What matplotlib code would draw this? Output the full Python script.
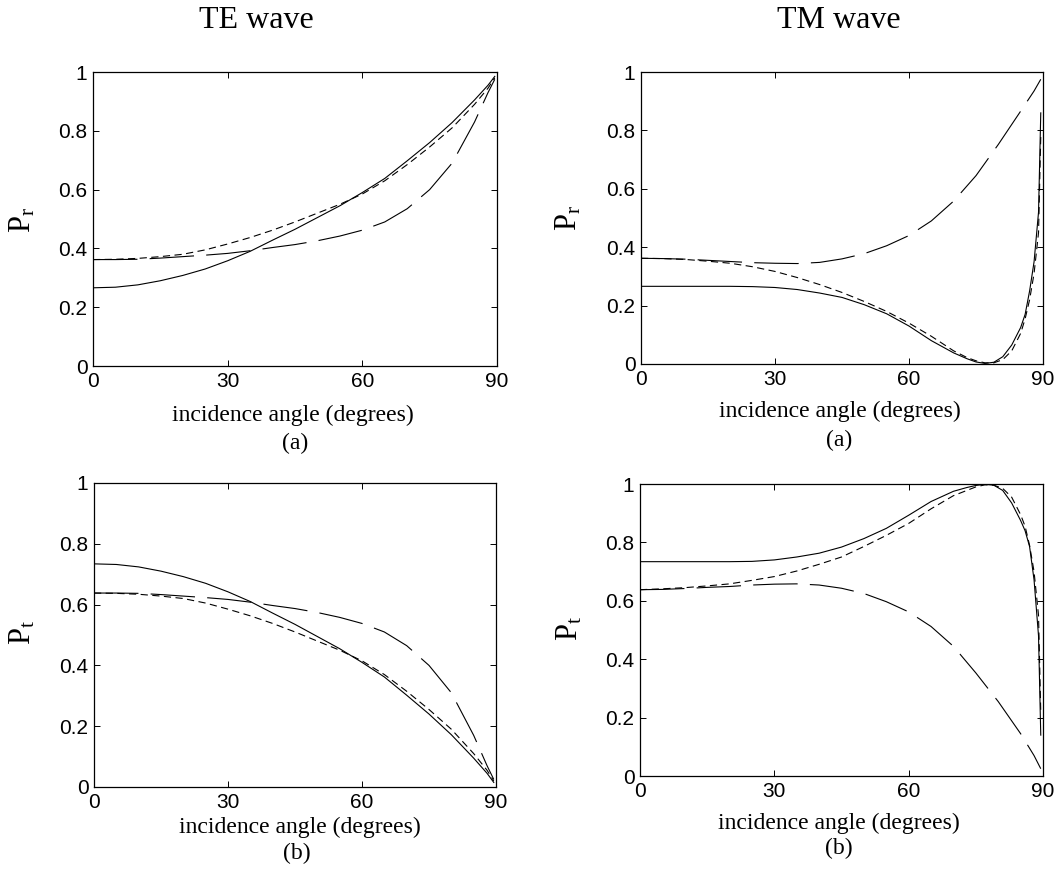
import matplotlib
matplotlib.use("Agg")
import matplotlib.pyplot as plt

ang_te = [0, 5, 10, 15, 20, 25, 30, 35, 40, 45, 50, 55, 60, 65, 70, 75, 80, 85, 88, 89.5]
ang_tm = [0, 5, 10, 15, 20, 25, 30, 35, 40, 45, 50, 55, 60, 65, 70, 73, 75, 77, 79, 81,
          83, 85, 86, 87, 88, 89, 89.5]
ang_tm_long = [0, 5, 10, 15, 20, 25, 30, 35, 40, 45, 50, 55, 60, 65, 70, 75, 80, 85, 88, 89.5]

# TE wave, reflected power
te_r_solid = [0.266, 0.268, 0.276, 0.29, 0.308, 0.33, 0.358, 0.39, 0.428, 0.465, 0.505, 0.545,
              0.59, 0.638, 0.698, 0.76, 0.828, 0.905, 0.955, 0.985]
te_r_short = [0.362, 0.363, 0.366, 0.372, 0.38, 0.395, 0.415, 0.437, 0.462, 0.49, 0.52, 0.55,
              0.585, 0.63, 0.685, 0.745, 0.81, 0.89, 0.945, 0.98]
te_r_long = [0.362, 0.362, 0.363, 0.367, 0.372, 0.377, 0.383, 0.392, 0.403, 0.413, 0.426, 0.442,
             0.462, 0.49, 0.535, 0.6, 0.69, 0.83, 0.93, 0.975]

# TE wave, transmitted power
te_t_solid = [0.734, 0.732, 0.724, 0.71, 0.692, 0.67, 0.642, 0.61, 0.572, 0.535, 0.495, 0.455,
              0.41, 0.362, 0.302, 0.24, 0.172, 0.095, 0.045, 0.015]
te_t_short = [0.638, 0.637, 0.634, 0.628, 0.62, 0.605, 0.585, 0.563, 0.538, 0.51, 0.48, 0.45,
              0.415, 0.37, 0.315, 0.255, 0.19, 0.11, 0.055, 0.02]
te_t_long = [0.638, 0.638, 0.637, 0.633, 0.628, 0.623, 0.617, 0.608, 0.597, 0.587, 0.574, 0.558,
             0.538, 0.51, 0.465, 0.4, 0.31, 0.17, 0.07, 0.025]

# TM wave, reflected power
tm_r_solid = [0.266, 0.266, 0.266, 0.266, 0.266, 0.265, 0.262, 0.255, 0.243, 0.228, 0.203, 0.172,
              0.13, 0.08, 0.038, 0.018, 0.007, 0.002, 0.006, 0.025, 0.065, 0.125, 0.17, 0.25,
              0.35, 0.52, 0.86]
tm_r_short = [0.362, 0.361, 0.358, 0.352, 0.345, 0.333, 0.317, 0.296, 0.272, 0.245, 0.214, 0.18,
              0.14, 0.095, 0.045, 0.022, 0.011, 0.004, 0.004, 0.015, 0.045, 0.105, 0.155, 0.22,
              0.31, 0.45, 0.78]
tm_r_long = [0.362, 0.361, 0.359, 0.355, 0.351, 0.347, 0.345, 0.344, 0.348, 0.36, 0.378, 0.405,
             0.44, 0.49, 0.558, 0.645, 0.752, 0.866, 0.935, 0.975]

# TM wave, transmitted power
tm_t_solid = [0.734, 0.734, 0.734, 0.734, 0.734, 0.735, 0.74, 0.75, 0.763, 0.784, 0.813, 0.848,
              0.893, 0.94, 0.975, 0.988, 0.995, 0.999, 0.996, 0.978, 0.935, 0.875, 0.84, 0.786,
              0.672, 0.48, 0.14]
tm_t_short = [0.638, 0.641, 0.645, 0.651, 0.658, 0.67, 0.683, 0.702, 0.725, 0.75, 0.786, 0.824,
              0.865, 0.915, 0.96, 0.978, 0.99, 0.997, 0.996, 0.985, 0.955, 0.895, 0.855, 0.79,
              0.7, 0.55, 0.22]
tm_t_long = [0.638, 0.639, 0.642, 0.646, 0.649, 0.654, 0.657, 0.658, 0.654, 0.643, 0.625, 0.597,
             0.562, 0.512, 0.444, 0.353, 0.255, 0.145, 0.07, 0.025]

x_ticks = [0, 30, 60, 90]
y_ticks = [0, 0.2, 0.4, 0.6, 0.8, 1]
y_tick_labels = ["0", "0.2", "0.4", "0.6", "0.8", "1"]

plt.rcParams["mathtext.fontset"] = "custom"
plt.rcParams["mathtext.rm"] = "Liberation Serif"
plt.rcParams["mathtext.it"] = "Liberation Serif"

W, H = 1063, 869
SERIF = "Liberation Serif"
SANS = "Liberation Sans"

LW = 0.8
SHORT = (0, (6.5, 4.0))
LONG = (0, (40, 11))


def px_axes(fig, left, right, top, bottom):
    return fig.add_axes([left / W, 1 - bottom / H, (right - left) / W, (bottom - top) / H])


def draw_panel(ax, ang_a, solid, ang_b, short, ang_c, long_):
    ax.plot(ang_a, solid, color="black", lw=LW, linestyle="-")
    ax.plot(ang_b, short, color="black", lw=LW, linestyle=SHORT)
    ax.plot(ang_c, long_, color="black", lw=LW, linestyle=LONG)
    ax.set_xlim(0, 90)
    ax.set_ylim(0, 1)
    ax.set_xticks(x_ticks)
    ax.set_xticklabels([str(t) for t in x_ticks], fontfamily=SANS, fontsize=15)
    ax.set_yticks(y_ticks)
    ax.set_yticklabels(y_tick_labels, fontfamily=SANS, fontsize=15)
    ax.tick_params(direction="in", top=True, right=True, length=4, width=0.7)
    ax.tick_params(axis="x", pad=4)
    ax.tick_params(axis="y", pad=4)
    for s in ax.spines.values():
        s.set_linewidth(0.9)


def ftext(fig, x, y, s, size, rotation=0):
    fig.text(x / W, 1 - y / H, s, fontfamily=SERIF, fontsize=size,
             ha="center", va="center", rotation=rotation)


fig = plt.figure(figsize=(W / 100, H / 100), dpi=100)

ax1 = px_axes(fig, 93, 497, 72, 366)
ax2 = px_axes(fig, 641, 1043, 72, 364)
ax3 = px_axes(fig, 94, 496, 483, 787)
ax4 = px_axes(fig, 640, 1043, 484, 776)

draw_panel(ax1, ang_te, te_r_solid, ang_te, te_r_short, ang_te, te_r_long)
draw_panel(ax2, ang_tm, tm_r_solid, ang_tm, tm_r_short, ang_tm_long, tm_r_long)
draw_panel(ax3, ang_te, te_t_solid, ang_te, te_t_short, ang_te, te_t_long)
draw_panel(ax4, ang_tm, tm_t_solid, ang_tm, tm_t_short, ang_tm_long, tm_t_long)

ftext(fig, 256, 21, "TE wave", 23)
ftext(fig, 839, 21, "TM wave", 23)

xl = "incidence angle (degrees)"
ftext(fig, 293, 415, xl, 17)
ftext(fig, 295, 443, "(a)", 17)
ftext(fig, 840, 411, xl, 17)
ftext(fig, 839, 440, "(a)", 17)
ftext(fig, 300, 827, xl, 17)
ftext(fig, 297, 853, "(b)", 17)
ftext(fig, 839, 823, xl, 17)
ftext(fig, 839, 848, "(b)", 17)

ftext(fig, 23, 220, r"$\mathrm{P_r}$", 22, rotation=90)
ftext(fig, 569, 218, r"$\mathrm{P_r}$", 22, rotation=90)
ftext(fig, 23, 632, r"$\mathrm{P_t}$", 22, rotation=90)
ftext(fig, 570, 628, r"$\mathrm{P_t}$", 22, rotation=90)

fig.savefig("out.png", dpi=100)
